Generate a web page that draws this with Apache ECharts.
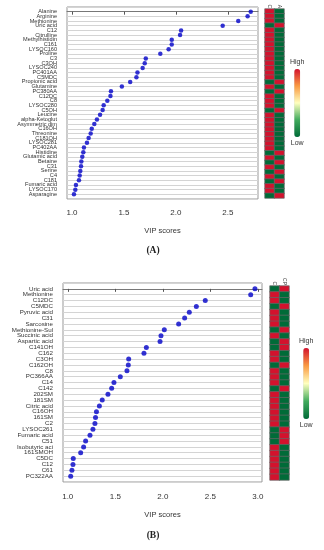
<!DOCTYPE html>
<html><head><meta charset="utf-8">
<script src="https://cdn.jsdelivr.net/npm/echarts@6/dist/echarts.min.js"></script>
<style>html,body{margin:0;padding:0;background:#fff}#c{width:324px;height:550px}</style>
</head><body><div id="c"></div><script>
const namesA = ['Alanine','Arginine','Methionine','Uric acid','C12','Citrulline','Methylhistidin','C161','LYSOC160','Proline','C3','C3OH','LYSOC240','PC401AA','C5MDC','Propionic acid','Glutamine','PC380AA','C12DC','C8','LYSOC280','C5OH','Leucine','alpha-Ketoglut','Asymmetric dim','C16OH','Threonine','C181OH','LYSOC281','PC402AA','Histidine','Glutamic acid','Betaine','C31','Serine','C4','C181','Fumaric acid','LYSOC170','Asparagine'];
const vipA = [2.72,2.69,2.60,2.45,2.05,2.04,1.96,1.96,1.93,1.85,1.71,1.70,1.68,1.63,1.62,1.56,1.48,1.375,1.37,1.34,1.305,1.295,1.27,1.24,1.215,1.19,1.18,1.16,1.144,1.115,1.109,1.099,1.09,1.087,1.08,1.074,1.067,1.038,1.032,1.019];
const namesB = ['Uric acid','Methionine','C12DC','C5MDC','Pyruvic acid','C31','Sarcosine','Methionine-Sul','Succinic acid','Aspartic acid','C141OH','C162','C3OH','C162OH','C8','PC366AA','C14','C142','202SM','181SM','Citric acid','C16OH','161SM','C2','LYSOC261','Fumaric acid','C51','Isobutyric aci','161SMOH','C5DC','C12','C61','PC322AA'];
const vipB = [2.97,2.925,2.447,2.353,2.279,2.23,2.167,2.016,1.981,1.971,1.827,1.802,1.641,1.637,1.623,1.553,1.486,1.462,1.423,1.363,1.333,1.302,1.292,1.286,1.265,1.234,1.188,1.167,1.136,1.058,1.055,1.044,1.031];
const ticksA = [1.0,1.5,2.0,2.5];
const ticksB = [1.0,1.5,2.0,2.5,3.0];
const groupsA = ['C','A'];
const groupsB = ['C','CP'];
const heatA1 = [1,1,1,0,1,1,1,1,1,1,1,1,1,1,1,0,1,0,1,1,1,0,1,1,1,1,1,1,1,1,0,1,0,1,0,1,0,1,1,0];
const heatA2 = [0,0,0,1,0,0,0,0,0,0,0,0,0,0,0,1,0,1,0,0,0,1,0,0,0,0,0,0,0,0,1,0,1,0,1,0,1,0,0,1];
const heatB1 = [0,1,1,0,1,1,1,0,1,0,0,1,1,0,1,1,1,0,1,1,1,1,1,1,0,0,0,1,1,1,1,1,1];
const heatB2 = [1,0,0,1,0,0,0,1,0,1,1,0,0,1,0,0,0,1,0,0,0,0,0,0,1,1,1,0,0,0,0,0,0];

const FONT = 'Liberation Sans';
const scale = ['#006b38','#41ab5d','#ffffbf','#fa9a42','#d3122d'];

function heatData(c1, c2){
  const d=[];
  c1.forEach((v,i)=>d.push([0,i,v]));
  c2.forEach((v,i)=>d.push([1,i,v]));
  return d;
}
function vipX(min,max,ticks,grid,margin,gap){
  return {type:'value',gridIndex:grid,min:min,max:max,
    axisLine:{show:true,lineStyle:{color:'#777',width:1}},
    axisTick:{show:true,length:3,lineStyle:{color:'#555'},customValues:ticks},
    axisLabel:{customValues:ticks,formatter:v=>v.toFixed(1),fontFamily:FONT,fontSize:8,color:'#333',margin:margin},
    splitLine:{show:false},
    name:'VIP scores',nameLocation:'middle',nameGap:gap,nameTextStyle:{fontFamily:FONT,fontSize:7.5,color:'#333'}};
}
function vipY(names,grid,fs){
  return {type:'value',gridIndex:grid,inverse:true,min:-1,max:names.length,interval:1,
    axisLine:{show:false},axisTick:{show:false},
    axisLabel:{formatter:v=>names[v]||'',fontFamily:FONT,fontSize:fs,color:'#333',margin:10,lineHeight:fs},
    splitLine:{show:true,lineStyle:{color:'#d4d4d4',width:1}}};
}
const chart = echarts.init(document.getElementById('c'),null,{renderer:'canvas'});
chart.setOption({
  animation:false,
  grid:[
    {left:67,top:7,width:191,height:192,show:true,borderColor:'#999',borderWidth:1},
    {left:63,top:283,width:199,height:199,show:true,borderColor:'#999',borderWidth:1},
    {left:265,top:9,width:19,height:189},
    {left:270,top:286,width:19,height:194}
  ],
  xAxis:[
    vipX(0.952,2.79,ticksA,0,10,28),
    vipX(0.95,3.044,ticksB,1,11,29),
    {type:'category',gridIndex:2,data:groupsA,position:'top',axisLine:{show:false},axisTick:{show:false},axisLabel:{rotate:90,fontSize:5,fontFamily:FONT,color:'#333',margin:1}},
    {type:'category',gridIndex:3,data:groupsB,position:'top',axisLine:{show:false},axisTick:{show:false},axisLabel:{rotate:90,fontSize:5,fontFamily:FONT,color:'#333',margin:1}}
  ],
  yAxis:[
    vipY(namesA,0,5.6),
    vipY(namesB,1,6.2),
    {type:'category',gridIndex:2,data:namesA,inverse:true,show:false},
    {type:'category',gridIndex:3,data:namesB,inverse:true,show:false}
  ],
  visualMap:[
    {type:'continuous',seriesIndex:2,min:0,max:1,calculable:false,orient:'vertical',left:275,top:44,itemWidth:6,itemHeight:68,text:['High','Low'],textGap:3,textStyle:{fontFamily:FONT,fontSize:7,color:'#333'},inRange:{color:scale}},
    {type:'continuous',seriesIndex:3,min:0,max:1,calculable:false,orient:'vertical',left:284,top:323,itemWidth:6,itemHeight:71,text:['High','Low'],textGap:3,textStyle:{fontFamily:FONT,fontSize:7,color:'#333'},inRange:{color:scale}}
  ],
  series:[
    {type:'scatter',xAxisIndex:0,yAxisIndex:0,data:vipA.map((v,i)=>[v,i]),symbolSize:4.5,itemStyle:{color:'#0000c8'}},
    {type:'scatter',xAxisIndex:1,yAxisIndex:1,data:vipB.map((v,i)=>[v,i]),symbolSize:5,itemStyle:{color:'#0000c8'}},
    {type:'heatmap',xAxisIndex:2,yAxisIndex:2,data:heatData(heatA1,heatA2),itemStyle:{borderColor:'#666',borderWidth:0.7}},
    {type:'heatmap',xAxisIndex:3,yAxisIndex:3,data:heatData(heatB1,heatB2),itemStyle:{borderColor:'#666',borderWidth:0.7}}
  ],
  graphic:[
    {type:'text',style:{text:'(A)',font:'bold 9.5px "Liberation Serif"',fill:'#222',x:153,y:251,textAlign:'center',textVerticalAlign:'middle'}},
    {type:'text',style:{text:'(B)',font:'bold 9.5px "Liberation Serif"',fill:'#222',x:153,y:536,textAlign:'center',textVerticalAlign:'middle'}}
  ]
});
</script></body></html>
